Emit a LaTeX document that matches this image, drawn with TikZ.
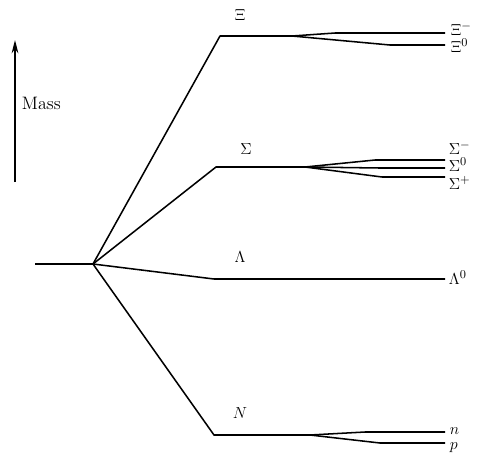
\documentclass[tikz,border=0pt]{standalone}
\usetikzlibrary{arrows.meta}
\begin{document}
\begin{tikzpicture}[x=0.75pt,y=-0.75pt,
  lvl/.style={line width=1.15pt, line join=round},
  lab/.style={font=\fontsize{13}{15}\selectfont, inner sep=0.5pt},
  rlab/.style={lab, anchor=base west}]
\useasboundingbox (0,0) rectangle (490,455);
% mass arrow
\coordinate (mbot) at (15,182);
\coordinate (mtop) at (15,40);
\draw[line width=0.9pt, -{Stealth[length=10pt,width=5pt]}] (mbot) -- (mtop);
\node[lab, anchor=west, font=\fontsize{13.5}{15}\selectfont] (mass) at (21,103) {Mass};
% start
\coordinate (start) at (35,264);
\coordinate (v) at (93,264);
\draw[lvl] (start) -- (v);
% Xi
\coordinate (xic) at (220,36);
\coordinate (xis) at (292,36);
\coordinate (ximb) at (335,33);
\coordinate (xime) at (445,33);
\coordinate (xi0b) at (390,45);
\coordinate (xi0e) at (445,45);
\draw[lvl] (v) -- (xic) -- (xis) -- (ximb) -- (xime);
\draw[lvl] (xis) -- (xi0b) -- (xi0e);
\node[lab] (lxi) at (240,15) {$\Xi$};
\node[rlab] (lxim) at (450,35) {$\Xi^{-}$};
\node[rlab] (lxi0) at (450,52) {$\Xi^{0}$};
% Sigma
\coordinate (sic) at (216,167);
\coordinate (sis) at (305,167);
\coordinate (simb) at (375,160);
\coordinate (sime) at (445,160);
\coordinate (si0b) at (380,168);
\coordinate (si0e) at (445,168);
\coordinate (sipb) at (382,177);
\coordinate (sipe) at (445,177);
\draw[lvl] (v) -- (sic) -- (sis) -- (simb) -- (sime);
\draw[lvl] (sis) -- (si0b) -- (si0e);
\draw[lvl] (sis) -- (sipb) -- (sipe);
\node[lab] (lsi) at (246,149) {$\Sigma$};
\node[rlab] (lsim) at (448,154) {$\Sigma^{-}$};
\node[rlab] (lsi0) at (448,171) {$\Sigma^{0}$};
\node[rlab] (lsip) at (448,189) {$\Sigma^{+}$};
% Lambda
\coordinate (lac) at (214,279);
\coordinate (lae) at (445,279);
\draw[lvl] (v) -- (lac) -- (lae);
\node[lab] (lla) at (240,257) {$\Lambda$};
\node[rlab] (lla0) at (448,284) {$\Lambda^{0}$};
% N
\coordinate (nc) at (214,435);
\coordinate (ns) at (310,435);
\coordinate (nnb) at (365,432);
\coordinate (nne) at (445,432);
\coordinate (npb) at (380,443);
\coordinate (npe) at (445,443);
\draw[lvl] (v) -- (nc) -- (ns) -- (nnb) -- (nne);
\draw[lvl] (ns) -- (npb) -- (npe);
\node[lab] (lnn) at (240,413) {$N$};
\node[rlab] (ln) at (449,434) {$n$};
\node[rlab] (lp) at (449,449) {$p$};
\end{tikzpicture}
\end{document}
